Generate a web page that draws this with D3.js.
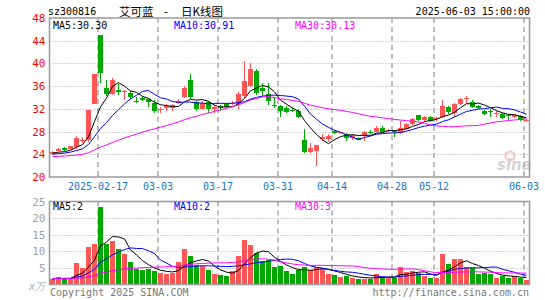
<!DOCTYPE html>
<html>
<head>
<meta charset="utf-8">
<script src="https://cdn.jsdelivr.net/npm/d3@7/dist/d3.min.js"></script>
<style>
    body { margin: 0; background: #fff; }
    svg text { font-family: "DejaVu Sans Mono", monospace; font-size: 10px; }
</style>
</head>
<body>
<svg id="chart" width="545" height="300"></svg>
<script>
// trading days shown (2025)
const dates = [
    "02-05","02-06","02-07","02-10","02-11","02-12","02-13","02-14","02-17","02-18",
    "02-19","02-20","02-21","02-24","02-25","02-26","02-27","02-28","03-03","03-04",
    "03-05","03-06","03-07","03-10","03-11","03-12","03-13","03-14","03-17","03-18",
    "03-19","03-20","03-21","03-24","03-25","03-26","03-27","03-28","03-31","04-01",
    "04-02","04-03","04-07","04-08","04-09","04-10","04-11","04-14","04-15","04-16",
    "04-17","04-18","04-21","04-22","04-23","04-24","04-25","04-28","04-29","04-30",
    "05-06","05-07","05-08","05-09","05-12","05-13","05-14","05-15","05-16","05-19",
    "05-20","05-21","05-22","05-23","05-26","05-27","05-28","05-29","05-30","06-03"
];
const open = [
    24.1, 24.6, 25.05, 25.0, 25.2, 26.4, 26.5, 32.9, 45.0, 35.6,
    34.6, 35.3, 34.9, 34.8, 33.4, 33.9, 33.7, 33.1, 31.9, 32.1,
    32.2, 33.0, 34.1, 37.06, 33.2, 32.06, 33.2, 31.9, 32.5, 32.8,
    32.8, 32.9, 34.2, 36.0, 38.7, 35.7, 34.7, 32.7, 32.5, 32.1,
    31.85, 31.65, 26.5, 24.4, 24.5, 26.7, 26.7, 28.1, 27.7, 27.65,
    26.8, 26.95, 27.3, 27.9, 28.0, 28.7, 28.05, 28.05, 27.7, 28.5,
    29.4, 30.9, 29.95, 30.5, 30.2, 30.5, 32.3, 31.3, 32.8, 33.8,
    33.2, 32.5, 31.6, 31.65, 31.2, 31.1, 30.95, 30.6, 30.75, 29.85
];
const high = [
    24.6, 25.1, 25.2, 25.5, 27.2, 27.0, 31.8, 38.1, 45.0, 37.1,
    37.4, 36.3, 35.3, 35.1, 34.1, 34.3, 34.0, 33.5, 32.4, 32.8,
    32.8, 33.8, 36.1, 38.1, 33.4, 33.3, 33.4, 32.7, 32.7, 33.1,
    33.4, 35.0, 40.5, 40.0, 39.0, 36.5, 36.5, 34.1, 32.7, 32.5,
    32.2, 31.9, 28.4, 25.9, 25.7, 27.6, 27.6, 28.3, 28.0, 27.8,
    27.5, 27.1, 28.1, 28.2, 28.9, 28.9, 28.5, 28.3, 29.9, 29.5,
    30.4, 31.0, 30.7, 30.7, 30.6, 33.6, 32.5, 33.0, 34.0, 34.2,
    33.6, 32.7, 31.8, 31.9, 31.7, 31.3, 31.1, 31.1, 30.9, 30.3
];
const low = [
    24.0, 24.5, 24.6, 24.9, 25.0, 25.9, 26.2, 32.8, 36.6, 34.2,
    34.4, 34.4, 33.5, 33.8, 33.0, 33.3, 32.4, 31.3, 31.2, 31.7,
    31.6, 32.9, 34.0, 33.8, 31.6, 31.9, 31.35, 31.35, 31.6, 32.1,
    32.6, 31.9, 34.0, 35.8, 34.5, 34.2, 32.6, 32.2, 30.5, 31.2,
    31.4, 30.4, 24.3, 24.3, 21.9, 26.3, 26.2, 27.5, 27.5, 26.3,
    26.5, 26.5, 26.3, 27.5, 27.9, 27.9, 27.9, 27.1, 27.6, 28.4,
    29.2, 29.8, 29.8, 29.6, 29.9, 30.4, 31.1, 30.5, 32.6, 32.8,
    32.1, 31.9, 30.9, 30.6, 30.6, 30.3, 30.0, 30.4, 29.9, 29.7
];
const close = [
    24.4, 24.9, 24.7, 25.4, 26.9, 26.6, 31.8, 38.1, 38.35, 34.6,
    37.0, 35.0, 35.1, 34.1, 33.3, 33.5, 33.2, 31.6, 32.05, 32.5,
    32.6, 33.4, 35.7, 34.1, 31.9, 33.06, 31.9, 32.35, 32.2, 32.35,
    32.95, 34.7, 36.9, 39.0, 34.8, 35.2, 33.4, 32.6, 31.6, 31.4,
    31.75, 30.6, 24.4, 25.1, 25.6, 27.0, 27.3, 27.8, 27.85, 26.9,
    27.4, 26.6, 28.0, 27.8, 28.7, 28.0, 28.35, 27.95, 28.7, 29.35,
    30.2, 29.95, 30.5, 29.8, 30.35, 32.5, 31.4, 32.9, 33.8, 33.95,
    32.35, 32.1, 31.1, 31.55, 31.35, 30.4, 30.75, 30.85, 30.05, 30.1
];
// volume, in 10k lots
const volume = [
    1.7, 2.2, 1.7, 1.8, 6.4, 4.9, 11.3, 12.2, 23.3, 12.2,
    13.2, 10.7, 9.2, 6.8, 4.8, 4.4, 4.7, 4.1, 3.5, 3.2,
    3.4, 6.8, 10.7, 8.6, 6.0, 5.5, 4.5, 3.3, 2.8, 2.5,
    4.0, 8.6, 13.3, 11.8, 9.6, 7.1, 7.3, 5.2, 5.6, 4.2,
    3.1, 4.3, 5.2, 4.5, 5.4, 4.6, 3.1, 2.8, 2.2, 2.7,
    2.0, 1.6, 1.8, 1.7, 3.1, 2.4, 2.1, 2.1, 5.2, 3.7,
    4.1, 3.5, 2.5, 1.9, 1.9, 9.2, 6.1, 7.6, 7.6, 5.2,
    5.1, 3.1, 3.5, 3.1, 1.9, 2.6, 1.9, 2.7, 2.1, 1.4
];
// 29 sessions before the window, only used to seed the moving averages
const preClose = [
    23.3, 23.2, 23.4, 23.5, 23.3, 23.1, 23.2, 23.4, 23.6, 23.5,
    23.3, 23.2, 23.4, 23.6, 23.5, 23.4, 23.3, 23.5, 23.6, 23.4,
    23.6, 23.9, 23.7, 24.0, 23.8, 24.0, 24.3, 24.1, 24.2
];
const preVolume = [
    1.8, 1.6, 1.9, 2.1, 1.7, 1.5, 1.8, 2.0, 1.6, 1.7,
    1.9, 1.5, 1.6, 1.8, 2.0, 1.7, 1.6, 1.9, 1.8, 1.5,
    1.7, 1.9, 1.6, 1.8, 2.0, 1.7, 1.6, 1.8, 1.9
];
const dateTicks = ["02-17", "03-03", "03-17", "03-31", "04-14", "04-28", "05-12", "06-03"];
const dateTickLabels = ["2025-02-17", "03-03", "03-17", "03-31", "04-14", "04-28", "05-12", "06-03"];
const priceTicks = [20, 24, 28, 32, 36, 40, 44, 48];
const volumeTicks = [5, 10, 15, 20, 25];
const priceMaText = ["MA5:30.30", "MA10:30.91", "MA30:30.13"];
const volumeMaText = ["MA5:2", "MA10:2", "MA30:3"];

const cfg = {
    left: 49.5,
    right: 529.5,
    pTop: 18,
    pBottom: 177,
    vTop: 201.5,
    vBottom: 284.5,
    up: "#ff5555",
    down: "#00a800",
    maColors: ["#000000", "#0000ff", "#ff00ff"],
    grid: "#a8a8a8",
    frame: "#999999",
};

const svg = d3.select("#chart");

const x = d3.scaleBand()
    .domain(dates)
    .range([50, 529])
    .paddingInner(1 / 6)
    .paddingOuter(0);
const cx = d => x(d) + x.bandwidth() / 2;

const yP = d3.scaleLinear().domain([20, 48]).range([cfg.pBottom, cfg.pTop]);
const yV = d3.scaleLinear().domain([0, 25]).range([cfg.vBottom, cfg.vTop]);

function movingAvg(pre, vals, n) {
    var all = pre.concat(vals);
    return vals.map((v, i) => {
        var k = i + pre.length;
        return d3.mean(all.slice(k - n + 1, k + 1));
    });
}

function drawGrid(y, ticks, top, bottom) {
    var g = svg.append("g");
    g.selectAll("line.h")
        .data(ticks)
        .enter()
        .append("line")
        .attr("x1", cfg.left)
        .attr("x2", cfg.right)
        .attr("y1", d => Math.round(y(d)) + 0.5)
        .attr("y2", d => Math.round(y(d)) + 0.5)
        .attr("stroke", cfg.grid)
        .attr("stroke-dasharray", "1,2");
    g.selectAll("line.v")
        .data(dateTicks)
        .enter()
        .append("line")
        .attr("x1", d => x(d))
        .attr("x2", d => x(d))
        .attr("y1", top)
        .attr("y2", bottom)
        .attr("stroke", cfg.grid)
        .attr("stroke-width", 1.5)
        .attr("stroke-dasharray", "5,4");
}

function drawFrame(top, bottom) {
    svg.append("rect")
        .attr("x", cfg.left)
        .attr("y", top)
        .attr("width", cfg.right - cfg.left)
        .attr("height", bottom - top)
        .attr("fill", "none")
        .attr("stroke", cfg.frame)
        .attr("stroke-width", 1.5);
}

function drawMaLines(series, y, g) {
    series.forEach((s, k) => {
        var line = d3.line()
            .x((d, i) => cx(dates[i]))
            .y(d => y(d));
        g.append("path")
            .attr("d", line(s))
            .attr("fill", "none")
            .attr("stroke", cfg.maColors[k])
            .attr("stroke-width", 1);
    });
}

function drawMaText(texts, yPos) {
    var xs = [53, 174, 295];
    texts.forEach((t, k) => {
        svg.append("text")
            .attr("x", xs[k])
            .attr("y", yPos)
            .attr("fill", cfg.maColors[k])
            .text(t);
    });
}

// ---- header
svg.append("text").attr("x", 48).attr("y", 15).attr("fill", "#000").text("sz300816");
// title pieces placed apart, the source spaces them widely
[["艾可蓝", 119], ["-", 164], ["日K线图", 181]].forEach(p => {
    svg.append("text")
        .attr("x", p[1])
        .attr("y", 15.5)
        .attr("fill", "#000")
        .style("font-family", "'Noto Sans CJK SC', sans-serif")
        .style("font-size", "11.5px")
        .text(p[0]);
});
svg.append("text")
    .attr("x", 530)
    .attr("y", 15)
    .attr("text-anchor", "end")
    .attr("fill", "#000")
    .text("2025-06-03 15:00:00");

// ---- price panel
drawGrid(yP, priceTicks.slice(1, -1), cfg.pTop, cfg.pBottom);

// sina watermark
var wm = svg.append("g").attr("opacity", 0.45);
wm.append("circle").attr("cx", 510).attr("cy", 156).attr("r", 4.5)
    .attr("fill", "none").attr("stroke", "#f08080").attr("stroke-width", 2);
wm.append("text")
    .attr("x", 497).attr("y", 170)
    .attr("fill", "#a0a0a0")
    .style("font-family", "'DejaVu Sans', sans-serif")
    .style("font-size", "15px")
    .style("font-weight", "bold")
    .style("font-style", "italic")
    .text("sina");

var candles = svg.append("g").attr("shape-rendering", "crispEdges");
var idx = d3.range(dates.length);
candles.selectAll("line")
    .data(idx)
    .enter()
    .append("line")
    .attr("x1", i => cx(dates[i]))
    .attr("x2", i => cx(dates[i]))
    .attr("y1", i => yP(high[i]))
    .attr("y2", i => yP(low[i]))
    .attr("stroke", i => (close[i] >= open[i] ? cfg.up : cfg.down));
candles.selectAll("rect")
    .data(idx)
    .enter()
    .append("rect")
    .attr("x", i => x(dates[i]))
    .attr("width", x.bandwidth())
    .attr("y", i => yP(Math.max(open[i], close[i])))
    .attr("height", i => Math.max(1, Math.abs(yP(open[i]) - yP(close[i]))))
    .attr("fill", i => (close[i] >= open[i] ? cfg.up : cfg.down));

var priceMa = [5, 10, 30].map(n => movingAvg(preClose, close, n));
drawMaLines(priceMa, yP, svg.append("g"));
drawFrame(cfg.pTop, cfg.pBottom);
drawMaText(priceMaText, 28.5);

var pAxis = svg.append("g")
    .attr("transform", "translate(" + (cfg.left - 1) + ",0)")
    .call(d3.axisLeft(yP).tickValues(priceTicks).tickSize(0).tickPadding(3).tickFormat(d3.format("d")));
pAxis.select(".domain").remove();
pAxis.selectAll("text")
    .attr("fill", "#ff0000")
    .style("font-size", "11px")
    .style("font-family", "'DejaVu Sans Mono', monospace");

// date labels
svg.append("g")
    .selectAll("text")
    .data(dateTicks)
    .enter()
    .append("text")
    .attr("x", d => x(d))
    .attr("y", 190)
    .attr("text-anchor", "middle")
    .attr("fill", "#1874cd")
    .text((d, i) => dateTickLabels[i]);

// ---- volume panel
drawGrid(yV, volumeTicks.slice(0, -1), cfg.vTop, cfg.vBottom);

svg.append("g")
    .attr("shape-rendering", "crispEdges")
    .selectAll("rect")
    .data(idx)
    .enter()
    .append("rect")
    .attr("x", i => x(dates[i]))
    .attr("width", x.bandwidth())
    .attr("y", i => yV(volume[i]))
    .attr("height", i => yV(0) - yV(volume[i]))
    .attr("fill", i => (close[i] >= open[i] ? cfg.up : cfg.down));

var volMa = [5, 10, 30].map(n => movingAvg(preVolume, volume, n));
drawMaLines(volMa, yV, svg.append("g"));
drawFrame(cfg.vTop, cfg.vBottom);
drawMaText(volumeMaText, 210);

var vAxis = svg.append("g")
    .attr("transform", "translate(" + (cfg.left - 1) + ",0)")
    .call(d3.axisLeft(yV).tickValues(volumeTicks).tickSize(0).tickPadding(3).tickFormat(d3.format("d")));
vAxis.select(".domain").remove();
vAxis.selectAll("text")
    .attr("fill", "#a0a0a0")
    .style("font-size", "11px")
    .style("font-family", "'DejaVu Sans Mono', monospace");

svg.append("text")
    .attr("x", 45).attr("y", 290)
    .attr("text-anchor", "end")
    .attr("fill", "#b0b0b0")
    .style("font-style", "italic")
    .text("x万");

// ---- footer
svg.append("text").attr("x", 50).attr("y", 296).attr("fill", "#777").text("Copyright 2025 SINA.COM");
svg.append("text")
    .attr("x", 529).attr("y", 296)
    .attr("text-anchor", "end")
    .attr("fill", "#777")
    .text("http://finance.sina.com.cn");
</script>
</body>
</html>
